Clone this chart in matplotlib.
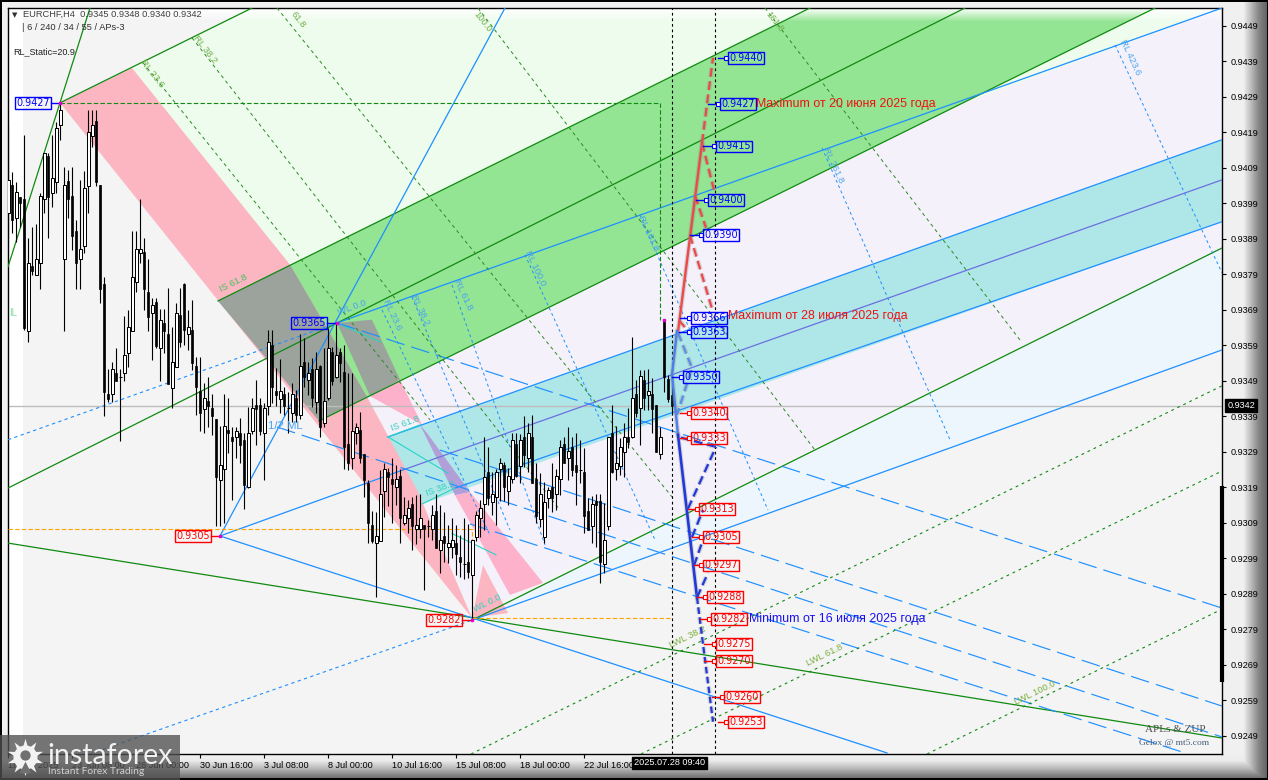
import numpy as np
import matplotlib
matplotlib.use('Agg')
import matplotlib.pyplot as plt
import matplotlib.patheffects as pe
from matplotlib.patches import Polygon, Rectangle

W, H = 1268, 780

# EURCHF H4 candles, first bar number and prices in points (0.00001)
first_bar = 2
opens = [93963, 94042, 93949, 94008, 94003, 93630, 93814, 93788, 93823, 94003, 94123, 94020, 94050, 94211, 93834,
         94053, 94011, 93912, 93834, 93870, 94039, 94180, 94222, 94042, 93763, 93453, 93453, 93512, 93501, 93512,
         93569, 93630, 93768, 93851, 93853, 93740, 93681, 93712, 93583, 93653, 93622, 93470, 93529, 93676, 93763,
         93622, 93633, 93532, 93461, 93411, 93433, 93414, 93383, 93211, 93242, 93352, 93332, 93332, 93343, 93324,
         93191, 93349, 93422, 93422, 93343, 93419, 93591, 93461, 93439, 93453, 93414, 93400, 93442, 93394, 93543,
         93493, 93524, 93430, 93532, 93372, 93442, 93571, 93501, 93571, 93515, 93313, 93273, 93343, 93352, 93284,
         93203, 93084, 93034, 93039, 93180, 93234, 93214, 93191, 93222, 93090, 93104, 93143, 93073, 93073, 93084,
         93081, 93073, 93123, 93014, 93053, 93022, 93022, 93034, 92994, 92974, 92980, 92943, 93050, 93104, 93143,
         93234, 93149, 93163, 93242, 93253, 93180, 93214, 93313, 93250, 93332, 93273, 93332, 93214, 93101, 93050,
         93160, 93191, 93172, 93214, 93313, 93273, 93304, 93253, 93239, 93234, 93123, 93081, 93152, 93152, 92974,
         93081, 93343, 93242, 93250, 93290, 93332, 93332, 93453, 93414, 93493, 93450, 93453, 93422, 93284, 93662,
         93496, 93450]
highs = [94211, 94078, 94050, 94008, 94183, 93892, 93923, 93932, 94020, 94132, 94132, 94183, 94219, 94273, 94093,
         94084, 94093, 93943, 94056, 94081, 94253, 94253, 94253, 94042, 93783, 93524, 93543, 93583, 93524, 93673,
         93690, 93912, 93912, 94003, 93892, 93834, 93724, 93724, 93693, 93693, 93752, 93642, 93710, 93752, 93766,
         93690, 93718, 93557, 93557, 93484, 93501, 93453, 93383, 93363, 93453, 93442, 93360, 93360, 93386, 93343,
         93416, 93442, 93493, 93442, 93428, 93633, 93633, 93526, 93552, 93473, 93459, 93484, 93464, 93622, 93611,
         93543, 93554, 93571, 93535, 93583, 93639, 93586, 93653, 93583, 93591, 93512, 93512, 93372, 93402, 93284,
         93211, 93123, 93120, 93239, 93259, 93245, 93273, 93253, 93242, 93163, 93154, 93163, 93168, 93172, 93084,
         93098, 93140, 93172, 93140, 93120, 93084, 93104, 93084, 93056, 93104, 93087, 93042, 93123, 93154, 93332,
         93304, 93234, 93242, 93273, 93262, 93245, 93343, 93343, 93341, 93391, 93372, 93394, 93259, 93231, 93206,
         93191, 93259, 93242, 93324, 93332, 93360, 93332, 93343, 93324, 93301, 93160, 93166, 93172, 93172, 93146,
         93332, 93422, 93363, 93329, 93372, 93414, 93613, 93493, 93521, 93521, 93524, 93498, 93422, 93360, 93662,
         93507, 93480]
lows = [93892, 93907, 93881, 93923, 93633, 93599, 93788, 93788, 93749, 93963, 93892, 93980, 94020, 94169, 93630,
        93949, 93859, 93749, 93749, 93851, 93963, 94149, 94039, 93710, 93391, 93430, 93430, 93490, 93321, 93490,
        93529, 93630, 93740, 93823, 93690, 93630, 93549, 93583, 93490, 93569, 93481, 93414, 93529, 93586, 93591,
        93577, 93521, 93394, 93349, 93343, 93360, 93338, 93081, 93081, 93090, 93287, 93154, 93273, 93259, 93129,
        93188, 93341, 93310, 93338, 93211, 93394, 93428, 93419, 93400, 93394, 93343, 93374, 93374, 93383, 93473,
        93450, 93416, 93400, 93332, 93360, 93436, 93478, 93498, 93487, 93242, 93239, 93242, 93313, 93259, 93163,
        93034, 93034, 92881, 93039, 93106, 93137, 93090, 93140, 93034, 93084, 93062, 93014, 93031, 93048, 92901,
        93050, 93042, 93019, 92949, 92980, 92977, 92991, 92943, 92937, 92932, 92935, 92822, 93039, 93050, 93070,
        93140, 93112, 93084, 93151, 93151, 93140, 93203, 93219, 93203, 93248, 93234, 93203, 93090, 93078, 93034,
        93132, 93120, 93126, 93168, 93259, 93211, 93222, 93140, 93203, 93062, 93070, 93034, 93022, 92921, 92949,
        93070, 93231, 93211, 93225, 93219, 93301, 93329, 93388, 93310, 93408, 93408, 93343, 93290, 93270, 93459,
        93430, 93400]
closes = [94056, 93943, 94022, 93992, 93639, 93823, 93799, 93834, 94011, 94132, 94008, 94062, 94202, 94253, 94042,
          94003, 93898, 93823, 93862, 94034, 94191, 94211, 94050, 93749, 93459, 93439, 93524, 93490, 93501, 93563,
          93642, 93783, 93862, 93862, 93749, 93670, 93704, 93588, 93662, 93630, 93481, 93543, 93681, 93600, 93633,
          93642, 93540, 93473, 93400, 93442, 93419, 93391, 93219, 93253, 93363, 93343, 93321, 93349, 93310, 93197,
          93343, 93414, 93411, 93349, 93414, 93600, 93473, 93450, 93461, 93419, 93414, 93453, 93394, 93532, 93501,
          93512, 93442, 93524, 93360, 93433, 93583, 93490, 93563, 93540, 93304, 93259, 93349, 93360, 93273, 93211,
          93090, 93039, 93053, 93172, 93242, 93219, 93200, 93214, 93104, 93112, 93132, 93081, 93084, 93104, 93073,
          93081, 93112, 93019, 93042, 93034, 93034, 93042, 93003, 92980, 92974, 92952, 93042, 93112, 93132, 93219,
          93160, 93172, 93234, 93259, 93191, 93222, 93324, 93222, 93324, 93281, 93343, 93203, 93109, 93172, 93149,
          93183, 93160, 93222, 93304, 93259, 93293, 93239, 93234, 93239, 93109, 93070, 93143, 93140, 92980, 93042,
          93332, 93234, 93259, 93304, 93332, 93318, 93442, 93400, 93504, 93442, 93461, 93411, 93290, 93332, 93501,
          93439, 93420]

# bottom axis, in bars
time_bars = [2, 18, 34, 50, 66, 82, 98, 114, 130, 146]
time_labels = ['18 Jun 2025', '23 Jun 08:00', '26 Jun 00:00', '30 Jun 16:00', '3 Jul 08:00', '8 Jul 00:00',
               '10 Jul 16:00', '15 Jul 08:00', '18 Jul 00:00', '22 Jul 16:00']
price_ticks = [0.9449, 0.9439, 0.9429, 0.9419, 0.9409, 0.9399, 0.9389, 0.9379, 0.9369, 0.9359, 0.9349,
               0.9339, 0.9329, 0.9319, 0.9309, 0.9299, 0.9289, 0.9279, 0.9269, 0.9259, 0.9249]

# pivots of the pitchforks (bar, price)
pivot_a = (15, 0.94273)
pivot_b = (84.25, 0.93653)
pivot_c = (55, 0.93053)
pivot_d = (118, 0.92816)

# solid channel lines (bar, price, bar, price)
green_lines = [pivot_a + (63, 0.94540),
               (54.5, 0.93715, 202.5, 0.94540),
               (2, 0.93188, 241.25, 0.94540),
               (79.75, 0.93377, 288.75, 0.94540),
               pivot_d + (305.5, 0.93864),
               (2, 0.93033, 305.5, 0.92484),
               (2, 0.93811, 22.5, 0.94540)]
blue_lines = [pivot_b + (305.5, 0.94540),
              (97, 0.93332, 305.5, 0.94169),
              (113.75, 0.93188, 305.5, 0.93938),
              pivot_c + (100.75, 0.93239),
              pivot_d + (305.5, 0.93577),
              pivot_c + (221.75, 0.92442),
              pivot_c + (126.25, 0.94540)]
violet_lines = [(100.75, 0.93239, 305.5, 0.94056)]
cyan_lines = [(97, 0.93332, 105, 0.93366), (105.5, 0.93143, 113.75, 0.93188), pivot_b + (95, 0.93600),
              (97, 0.93332, 112, 0.93230), (113, 0.93060, 124, 0.93000)]
# dotted and dashed ones
blue_dotted = [(2, 0.93324) + pivot_b, (22.5, 0.92439) + pivot_d]
blue_long_dash = [pivot_b + (305.5, 0.92850),
                  (110, 0.93295, 305.5, 0.92574),
                  (69.25, 0.93360, 305.5, 0.92487),
                  (117.5, 0.93087, 296.25, 0.92442)]
blue_rl = [(95.5, 0.93690, 122.5, 0.93056), (103, 0.93726, 127.5, 0.93070), (113, 0.93760, 136.25, 0.93028),
           (131.25, 0.93845, 163.75, 0.93042), (160, 0.93957, 192, 0.93126), (205.5, 0.94146, 237.5, 0.93324),
           (278.75, 0.94436, 305.5, 0.93794)]
green_rl = [(35.75, 0.94386, 107.5, 0.93380), (48, 0.94456, 140, 0.93126), (69.25, 0.94540, 168, 0.93163),
            (119.5, 0.94540, 203.75, 0.93295), (191.25, 0.94540, 255, 0.93605)]
green_lwl = [(117.75, 0.92439, 305.5, 0.93476), (160.25, 0.92439, 305.5, 0.93236), (231.75, 0.92439, 305.5, 0.92847)]
green_box = [(15, 0.94273), (165, 0.94273), (165, 0.93662)]
orange_box = [(2, 0.93073), (118, 0.93073), (118, 0.92822), (167.5, 0.92822)]

# filled zones
lavender_zone = [(91.75, 0.93445), (288.75, 0.94540), (305.5, 0.94540), (305.5, 0.93864), (127, 0.92880), pivot_d]
sky_zone = [pivot_d, (305.5, 0.93864), (305.5, 0.93577)]
pale_green_zones = [[(33, 0.94371), (63, 0.94540), (202.5, 0.94540), (72.5, 0.93817)],
                    [(240.5, 0.94270), (288.75, 0.94540), (305.5, 0.94540)]]
green_zone = [(54.5, 0.93715), (202.5, 0.94540), (288.75, 0.94540), (79.75, 0.93377)]
teal_zone = [(97, 0.93332), (305.5, 0.94169), (305.5, 0.93938), (105.5, 0.93143)]
pink_zone = [pivot_a, (33, 0.94371), (72.5, 0.93817), (91.75, 0.93445), (104.25, 0.93183), (118, 0.92822)]
pink_tip = [(118, 0.92822), (127, 0.92836), (120.75, 0.92971)]
gray_zones = [[(54.5, 0.93715), (72.5, 0.93817), (91.75, 0.93445), (79.75, 0.93377)],
              [pivot_b, (93, 0.93662), (100, 0.93493), (92.5, 0.93447)]]
rose_zones = [[(92.5, 0.93447), (100, 0.93493), (105.5, 0.93366)],
              [(113.75, 0.93168), (117.5, 0.93177), (135.75, 0.92921), (127.5, 0.92887)]]
violet_zone = [(105, 0.93366), (106.75, 0.93343), (117.5, 0.93177), (113.75, 0.93168)]

# forecast zigzags (bar, price)
red_main = [(169.5, 0.93628), (175.5, 0.94160)]
red_dashed = [[(175.5, 0.94160), (178.25, 0.94400)],
              [(175.5, 0.94160), (178.5, 0.94028)],
              [(173.75, 0.94011), (176.5, 0.93921)],
              [(172.5, 0.93900), (178.25, 0.93684)],
              [(169.75, 0.93660), (172.5, 0.93625)]]
blue_top = [(169.25, 0.93630), (168, 0.93507), (169.5, 0.93338)]
blue_main = [(169.5, 0.93338), (174.25, 0.92880)]
blue_tail = [(174.25, 0.92880), (178.25, 0.92530)]
light_blue_dashed = [[(169.5, 0.93625), (173, 0.93526), (169.25, 0.93394)]]
blue_dashed = [[(170.25, 0.93330), (179, 0.93304)],
               [(172, 0.93130), (179, 0.93304)],
               [(173, 0.93050), (175.75, 0.93126)],
               [(173.5, 0.92970), (176, 0.93050)],
               [(174.25, 0.92880), (177, 0.92949)]]

# price boxes: value, bar of the box, bar of the leader start
blue_levels = [('0.9440', 182, 179.5), ('0.9427', 180, 177), ('0.9415', 179, 175.75), ('0.9400', 177, 174),
               ('0.9390', 175.75, 172.5), ('0.9366', 172.75, 170), ('0.9363', 172.75, 169.75), ('0.9350', 170.75, 168)]
red_levels = [('0.9340', 172.75, 170), ('0.9333', 172.75, 170), ('0.9313', 174.75, 172), ('0.9305', 175.75, 173),
              ('0.9297', 175.75, 173.5), ('0.9288', 176.75, 174.25), ('0.9282', 177.75, 175), ('0.9275', 179, 176),
              ('0.9270', 179, 176), ('0.9260', 181, 178), ('0.9253', 182, 179.5)]
pivot_levels = [('0.9427', 3.75, pivot_a, 'blue'), ('0.9365', 72.75, pivot_b, 'blue'),
                ('0.9305', 43.75, pivot_c, 'red'), ('0.9282', 106.5, pivot_d, 'red')]
# the two close boxes are pushed apart a little on the chart
box_shift = {'0.9366': 0.00006, '0.9363': -0.00002}

notes = [('Maximum от 20 июня 2025 года', 189, 0.9427, '#f01010'),
         ('Maximum от 28 июля 2025 года', 182, 0.93672, '#f01010'),
         ('Minimum от 16 июля 2025 года', 187.25, 0.9282, '#1a10f0')]

# small level names on the lines: text, bar, price, angle, colour
RL_GREEN, RL_BLUE, IS_CYAN, LWL_GREEN = '#6fb04a', '#4aa5f0', '#35d0c0', '#7db040'
line_names = [('RL 23.6', 38, 0.94355, -52, RL_GREEN), ('RL 38.2', 51.25, 0.94422, -52, RL_GREEN),
              ('61.8', 74.5, 0.94507, -52, RL_GREEN), ('100.0', 120.75, 0.94501, -52, RL_GREEN),
              ('161.8', 193.75, 0.94501, -52, RL_GREEN),
              ('RL 23.6', 98, 0.93676, -65, RL_BLUE), ('RL 38.2', 105, 0.93690, -65, RL_BLUE),
              ('RL 61.8', 115.75, 0.93732, -65, RL_BLUE), ('RL 100.0', 133.75, 0.93808, -65, RL_BLUE),
              ('RL 161.8', 162, 0.93907, -65, RL_BLUE), ('RL 261.8', 208.25, 0.94098, -65, RL_BLUE),
              ('RL 423.6', 282.5, 0.94402, -65, RL_BLUE),
              ('IS 61.8', 58.25, 0.93766, 26, '#45c060'), ('WL 0.0', 88, 0.93695, 20, RL_BLUE),
              ('IS 61.8', 101.25, 0.93371, 20, IS_CYAN), ('IS 38.2', 110, 0.93188, 20, IS_CYAN),
              ('WL 0.0', 121.75, 0.92864, 26, IS_CYAN),
              ('LWL 38.2', 172, 0.92769, 26, LWL_GREEN), ('LWL 61.8', 206.25, 0.92718, 26, LWL_GREEN),
              ('LWL 100.0', 258.75, 0.92611, 26, LWL_GREEN)]


def draw_segments(ax, segments, **style):
    ''' each segment is x0, y0, x1, y1 '''
    for x0, y0, x1, y1 in segments:
        ax.plot([x0, x1], [y0, y1], **style)


def draw_paths(ax, paths, **style):
    for path in paths:
        xs, ys = zip(*path)
        ax.plot(xs, ys, **style)


def draw_zones(ax, zones, color, zorder):
    for zone in zones:
        ax.add_patch(Polygon(zone, closed=True, facecolor=color, edgecolor='none', zorder=zorder))


def draw_candles(ax):
    o, h, l, c = [np.array(v) / 1e5 for v in (opens, highs, lows, closes)]
    x = first_bar + np.arange(len(o))
    ax.vlines(x, l, h, color='black', lw=0.8, zorder=6)
    up = c >= o
    # edges fall on whole pixels, so the white bodies keep their inside
    ax.bar(x[up], (c - o)[up], bottom=o[up], width=0.75, facecolor='white', edgecolor='black', lw=0.72, zorder=7)
    ax.bar(x[~up], (o - c)[~up], bottom=c[~up], width=0.62, facecolor='black', edgecolor='black', lw=0.5, zorder=7)


def price_box(ax, text, bar, price, color):
    ax.text(bar + 0.3, price, text, color=color, fontsize=6.9, ha='left', va='center', zorder=11,
            family='DejaVu Sans',
            bbox=dict(boxstyle='square,pad=0.1', facecolor='none', edgecolor=color, lw=1.0))


def draw_levels(ax, levels, color):
    for text, box_bar, start_bar in levels:
        price = float(text)
        box_price = price + box_shift.get(text, 0)
        ax.plot([start_bar, box_bar], [box_price, box_price], color=color, lw=1.0, zorder=10)
        ax.plot([box_bar - 0.4], [box_price], marker='s', ms=2.5, mfc='white', mec=color, mew=0.8, zorder=10)
        price_box(ax, text, box_bar, box_price, color)


def draw_frame():
    ''' bevel round the chart, the grey gets darker to the edge '''
    chrome = np.full((H, W), 0.94)
    right = np.interp(np.arange(W), [1222, 1243, 1250, 1258, 1267], [0.94, 0.94, 0.75, 0.53, 0.38])
    bottom = np.interp(np.arange(H), [754, 760, 768, 775, 779], [0.94, 0.92, 0.72, 0.5, 0.4])
    chrome = np.minimum(chrome, right[None, :])
    chrome = np.minimum(chrome, bottom[:, None])
    chrome[:2, :] = 0
    chrome[-2:, :] = 0
    chrome[:, :2] = 0
    chrome[:, -1:] = 0
    bg = fig.add_axes([0, 0, 1, 1], zorder=0)
    bg.imshow(chrome, cmap='gray', vmin=0, vmax=1, aspect='auto', extent=(0, W, H, 0))
    bg.set_axis_off()


def draw_watermark():
    top = fig.add_axes([0, 0, 1, 1], zorder=10)
    top.set_xlim(0, W)
    top.set_ylim(H, 0)
    top.patch.set_alpha(0)
    top.set_axis_off()
    top.add_patch(Rectangle((0, 735), 180, 45, facecolor='#505050', alpha=0.78, edgecolor='none'))
    top.scatter([25], [757], s=720, marker=(10, 1, 0), c='#f2f2f2', lw=0)
    top.scatter([25], [757], s=300, marker='o', c='#f2f2f2', lw=0)
    top.scatter([25], [755], s=55, marker='o', c='#707070', lw=0)
    top.scatter([25], [767], s=70, marker='^', c='#707070', lw=0)
    top.text(47, 756, 'instaforex', color='#f0f0f0', fontsize=20.5, family='Lato', va='center', ha='left')
    top.text(48, 771, 'Instant Forex Trading', color='#d0d0d0', fontsize=7.4, family='Lato', va='center', ha='left')


plt.rcParams['font.family'] = ['Liberation Sans', 'DejaVu Sans']
fig = plt.figure(figsize=(W / 100, H / 100), dpi=100)
draw_frame()

ax = fig.add_axes([8 / W, 1 - 754 / H, 1214 / W, 746 / H], zorder=2)
ax.set_facecolor('#f4f4f4')
ax.set_xlim(2, 305.5)
ax.set_ylim(0.92439, 0.94540)

# white strip on the left of the chart
ax.add_patch(Rectangle((2, 0.92439), 3.75, 0.02101, facecolor='white', edgecolor='none', zorder=0.5))

draw_zones(ax, [lavender_zone], '#f4f1fa', 1)
draw_zones(ax, [sky_zone], '#eef6fd', 1.1)
draw_zones(ax, pale_green_zones, '#edfcec', 1.2)
draw_zones(ax, [green_zone], '#93e493', 1.3)
draw_zones(ax, [teal_zone], '#afe6e8', 1.4)
draw_zones(ax, [pink_zone, pink_tip], '#fbb6c1', 1.5)
draw_zones(ax, gray_zones, '#9ba39c', 1.6)
draw_zones(ax, rose_zones, '#fdb1cb', 1.7)
draw_zones(ax, [violet_zone], '#b29fd8', 1.8)

# white fade along the top edge, over the zones
fade = np.ones((32, 2, 4))
fade[:, :, 3] = np.linspace(1, 0, 32)[:, None]
ax.imshow(fade, extent=(2, 305.5, 0.94501, 0.94540), aspect='auto', zorder=1.9, origin='upper')
ax.set_xlim(2, 305.5)
ax.set_ylim(0.92439, 0.94540)

ax.axhline(0.9342, color='#bdbdbd', lw=1.0, zorder=2)

BLUE = '#1e90ff'
GREEN = '#108a10'
draw_segments(ax, green_lines, color=GREEN, lw=0.9, zorder=3)
draw_segments(ax, blue_lines, color=BLUE, lw=0.9, zorder=3)
draw_segments(ax, violet_lines, color='#6a70e0', lw=0.9, zorder=3)
draw_segments(ax, cyan_lines, color='#25d5c5', lw=0.8, zorder=3)
draw_segments(ax, blue_dotted, color=BLUE, lw=0.8, ls=(0, (3, 3)), zorder=3)
draw_segments(ax, blue_long_dash, color=BLUE, lw=0.85, ls=(0, (16, 6)), zorder=3)
draw_segments(ax, blue_rl, color=BLUE, lw=0.7, ls=(0, (3, 3)), zorder=3)
draw_segments(ax, green_rl, color='#2a8a20', lw=0.7, ls=(0, (3.5, 3.5)), zorder=3)
draw_segments(ax, green_lwl, color=GREEN, lw=0.8, ls=(0, (2.5, 3.5)), zorder=3)
draw_paths(ax, [green_box], color=GREEN, lw=0.8, ls=(0, (4, 2)), zorder=3)
draw_paths(ax, [orange_box], color='#ffa500', lw=0.8, ls=(0, (4, 2)), zorder=3)

# time marks of the forecast
ax.axvline(168, color='black', lw=0.8, ls=(0, (2.5, 2.5)), zorder=5)
ax.axvline(178.75, color='black', lw=0.8, ls=(0, (2.5, 2.5)), zorder=5)

draw_candles(ax)

glow = [pe.withStroke(linewidth=3.4, foreground='#888888', alpha=0.3)]
draw_paths(ax, [red_main], color='#f04848', lw=1.7, zorder=8, path_effects=glow)
draw_paths(ax, red_dashed, color='#f04848', lw=1.6, ls=(0, (4, 2)), zorder=8, path_effects=glow)
draw_paths(ax, [blue_top], color='#4a80e8', lw=1.7, zorder=8, path_effects=glow)
draw_paths(ax, light_blue_dashed, color='#5b8de8', lw=1.6, ls=(0, (4, 2)), zorder=8, path_effects=glow)
draw_paths(ax, [blue_main], color='#2338d8', lw=1.9, zorder=8, path_effects=glow)
draw_paths(ax, [blue_tail], color='#2338d8', lw=1.6, ls=(0, (3, 1.5)), zorder=8, path_effects=glow)
draw_paths(ax, blue_dashed, color='#2338d8', lw=1.6, ls=(0, (4, 2)), zorder=8, path_effects=glow)

draw_levels(ax, blue_levels, '#0000ff')
draw_levels(ax, red_levels, '#ff0000')

for text, box_bar, (px, py), color in pivot_levels:
    ax.plot([box_bar + 9, px], [py, py], color=color, lw=1.0, zorder=10)
    ax.plot([px], [py], marker='s', ms=2, color='#e000d0', zorder=10)
    price_box(ax, text, box_bar, py, color)
ax.plot([166], [0.93662], marker='s', ms=2, color='#e000d0', zorder=10)

for text, bar, price, color in notes:
    ax.text(bar, price, text, color=color, fontsize=8.9, ha='left', va='center', zorder=11)

for text, bar, price, angle, color in line_names:
    ax.text(bar, price, text, color=color, fontsize=6.8, rotation=angle, ha='center', va='center', zorder=5,
            rotation_mode='anchor')

ax.text(67, 0.93363, '1/2 ML', color='#4aa0f0', fontsize=8.2, ha='left', va='center', zorder=9)
ax.text(2.2, 0.93681, 'IL', color='#7fe0a0', fontsize=7, ha='left', va='center', zorder=9)
ax.text(286.25, 0.92507, 'APLs & ZUP', color='#505050', fontsize=8, family='Liberation Serif',
        ha='left', va='center', zorder=9)
ax.text(284.75, 0.92470, 'Gelox @ mt5.com', color='#46607a', fontsize=6.8, family='Liberation Serif',
        ha='left', va='center', zorder=9)

# terminal texts in the top left corner
ax.text(3.1, 0.94521, '▼', color='#333333', fontsize=5, ha='left', va='center', zorder=12, family='DejaVu Sans')
ax.text(5.8, 0.94521, 'EURCHF,H4  0.9345 0.9348 0.9340 0.9342', color='#404040', fontsize=6.7,
        ha='left', va='center', zorder=12)
ax.text(5.5, 0.94484, '| 6 / 240 / 34 / 55 / APs-3', color='#303030', fontsize=6.7, ha='left', va='center', zorder=12)
ax.text(3.2, 0.94417, 'RL_Static=20.9', color='#202020', fontsize=6.5, ha='left', va='center', zorder=12)

# axes
ax.yaxis.tick_right()
ax.set_yticks(price_ticks)
ax.set_yticklabels(['%.4f' % p for p in price_ticks], fontsize=6.6, color='black')
ax.set_xticks(time_bars)
ax.set_xticklabels(time_labels, fontsize=6.6, ha='left', color='black')
ax.tick_params(axis='y', length=3, width=0.8, pad=3)
ax.tick_params(axis='x', length=3, width=0.8, pad=2)
for spine in ax.spines.values():
    spine.set_color('black')
    spine.set_linewidth(1.0)

# current price on the scale, crosshair time and the thick scale bar
ax.plot([305.5, 305.5], [0.93194, 0.92642], color='black', lw=3, clip_on=False, zorder=12, solid_capstyle='butt')
ax.text(1.0045, 0.9342, '0.9342', color='white', fontsize=6.6, va='center', ha='left', zorder=12,
        transform=ax.get_yaxis_transform(),
        bbox=dict(boxstyle='square,pad=0.22', facecolor='black', edgecolor='black'))
ax.text(158.5, -0.0118, '2025.07.28 09:40', color='white', fontsize=6.6, va='center', ha='left', zorder=12,
        transform=ax.get_xaxis_transform(),
        bbox=dict(boxstyle='square,pad=0.18', facecolor='black', edgecolor='black'))

draw_watermark()
fig.savefig('out.png', dpi=100)
